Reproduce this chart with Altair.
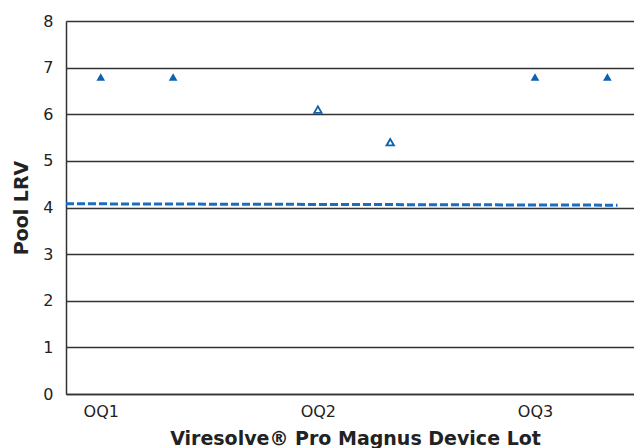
import altair as alt
import pandas as pd

# ---- data ----
lots = ["OQ1", "OQ2", "OQ3"]
replicate = [1, 2]
pool_lrv = {
    "OQ1": [6.8, 6.8],
    "OQ2": [6.1, 5.4],
    "OQ3": [6.8, 6.8],
}
result_type = {           # filled = at/above limit of detection, open = measured
    "OQ1": ["filled", "filled"],
    "OQ2": ["open", "open"],
    "OQ3": ["filled", "filled"],
}
limit_x = [0.84, 3.38]     # start / end of the dashed reference line (lot units)
limit_y = [4.08, 4.05]
y_ticks = [0, 1, 2, 3, 4, 5, 6, 7, 8]

rows = []
for i, lot in enumerate(lots):
    for j, r in enumerate(replicate):
        rows.append({"lot": lot, "lot_num": i + 1, "rep": r,
                     "lrv": pool_lrv[lot][j], "type": result_type[lot][j]})
df = pd.DataFrame(rows)
df_line = pd.DataFrame({"x": limit_x, "y": limit_y})

BLUE = "#0b62b0"
FONT = "DejaVu Sans"
label_expr = "[" + ",".join(f"'{l}'" for l in lots) + "][datum.value - 1]"

x_scale = alt.Scale(domain=[0.84, 3.456], nice=False, zero=False)
y_scale = alt.Scale(domain=[0, 8], nice=False)

base = alt.Chart(df).transform_calculate(
    xpos="datum.lot_num + (datum.rep - 1) / 3"
)

x_axis = alt.Axis(values=[1, 2, 3], labelExpr=label_expr, grid=False, ticks=False,
                  domain=True, domainColor="#333333", domainWidth=1.5,
                  labelFont=FONT, labelFontSize=16, labelColor="#222222",
                  labelPadding=9, labelAlign="center",
                  title="Viresolve® Pro Magnus Device Lot", titleFont=FONT,
                  titleFontSize=19, titleFontWeight="bold", titleColor="#222222",
                  titleX=289, titleY=50, titleBaseline="alphabetic", titleAnchor="start",
                  titleAlign="center")
y_axis = alt.Axis(values=y_ticks, grid=True, gridColor="#333333", gridWidth=1.5,
                  ticks=False, domain=True, domainColor="#333333", domainWidth=1.5,
                  labelFont=FONT, labelFontSize=16, labelColor="#222222",
                  labelPadding=13,
                  title="Pool LRV", titleFont=FONT, titleFontSize=19,
                  titleFontWeight="bold", titleColor="#222222",
                  titleX=-39, titleY=186.5, titleBaseline="alphabetic",
                  titleAlign="center", titleAngle=270)

filled = base.transform_filter("datum.type == 'filled'").mark_point(
    shape="triangle-up", filled=True, color=BLUE, size=75, opacity=1
).encode(
    x=alt.X("xpos:Q", scale=x_scale, axis=x_axis),
    y=alt.Y("lrv:Q", scale=y_scale, axis=y_axis),
)

opened = base.transform_filter("datum.type == 'open'").mark_point(
    shape="triangle-up", filled=False, stroke=BLUE, strokeWidth=1.8, size=55,
    fill="white", fillOpacity=1, opacity=1
).encode(
    x=alt.X("xpos:Q", scale=x_scale),
    y=alt.Y("lrv:Q", scale=y_scale),
)

limit = alt.Chart(df_line).mark_line(
    color="#1a6dc0", strokeWidth=3, strokeDash=[8, 3]
).encode(
    x=alt.X("x:Q", scale=x_scale),
    y=alt.Y("y:Q", scale=y_scale),
)

chart = alt.layer(limit, filled, opened).properties(
    width=568, height=373,
    autosize=alt.AutoSizeParams(type="none"),
    padding={"left": 58, "top": 13, "right": 0, "bottom": 54},
).configure_view(stroke=None).configure(background="white")

chart.save("out.html", embed_options={"renderer": "svg", "actions": False})
